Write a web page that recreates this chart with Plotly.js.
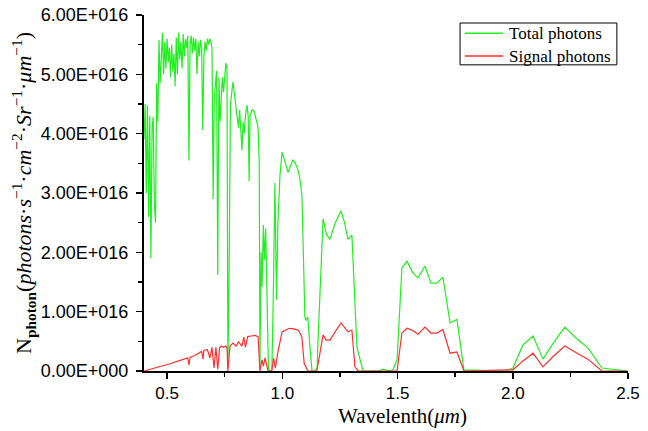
<!DOCTYPE html>
<html>
<head>
<meta charset="utf-8">
<script src="https://cdn.plot.ly/plotly-3.0.1.min.js"></script>
<style>html,body{margin:0;padding:0;background:#fff;}#chart{width:648px;height:431px;}</style>
</head>
<body>
<div id="chart"></div>
<script>
// Wavelength (um) and photon counts in units of 1e16
const totalWavelength = [0.400,0.405,0.410,0.415,0.420,0.425,0.430,0.435,0.440,0.445,0.450,0.455,0.460,0.465,0.470,0.475,0.480,0.485,0.490,0.495,0.500,0.505,0.510,0.515,0.520,0.525,0.530,0.535,0.540,0.545,0.550,0.555,0.560,0.565,0.570,0.575,0.580,0.585,0.590,0.595,0.600,0.605,0.610,0.615,0.620,0.625,0.630,0.635,0.640,0.645,0.650,0.655,0.660,0.665,0.670,0.675,0.680,0.685,0.690,0.695,0.700,0.705,0.710,0.715,0.720,0.725,0.730,0.735,0.740,0.745,0.750,0.755,0.760,0.764,0.770,0.775,0.786,0.795,0.805,0.810,0.815,0.820,0.825,0.830,0.835,0.840,0.847,0.852,0.856,0.860,0.869,0.878,0.887,0.895,0.900,0.903,0.908,0.912,0.918,0.922,0.928,0.935,0.940,0.950,0.955,0.962,0.968,0.975,0.981,0.990,0.999,1.010,1.025,1.035,1.046,1.057,1.068,1.077,1.085,1.090,1.098,1.104,1.111,1.120,1.129,1.140,1.151,1.155,1.166,1.177,1.192,1.207,1.229,1.255,1.270,1.285,1.302,1.324,1.350,1.420,1.437,1.452,1.467,1.480,1.498,1.519,1.541,1.567,1.589,1.619,1.645,1.671,1.697,1.728,1.758,1.788,1.966,2.001,2.044,2.088,2.131,2.174,2.226,2.279,2.326,2.387,2.435,2.496];
const totalPhotons = [3.9,4.5,3.0,4.48,2.6,4.3,1.9,4.1,4.28,2.8,2.5,4.85,4.2,5.58,4.85,5.3,5.7,5.0,5.55,5.1,5.6,5.2,5.45,4.95,5.5,5.05,5.35,4.8,5.62,5.0,5.7,5.25,5.55,5.1,5.68,5.3,5.6,5.45,5.65,3.55,5.5,5.65,5.35,5.62,5.4,5.6,5.0,5.55,5.3,5.58,5.45,4.06,5.3,5.55,5.4,5.6,5.5,5.6,5.55,5.45,2.9,4.6,4.9,5.06,1.62,4.95,4.2,4.6,4.95,4.7,5.05,5.19,5.1,0.05,2.0,4.5,4.87,4.6,4.3,4.1,4.4,3.9,3.72,4.2,4.0,4.3,4.48,4.3,3.2,4.3,4.4,4.38,4.25,4.1,3.5,0.1,2.0,1.42,2.46,1.87,2.4,0.8,0.02,0.0,0.05,1.5,3.17,1.2,2.5,3.3,3.69,3.55,3.35,3.45,3.56,3.5,3.39,3.22,2.97,2.2,0.91,0.85,0.91,0.4,0.0,0.0,0.05,0.52,1.6,2.56,2.3,2.22,2.49,2.7,2.5,2.22,2.29,0.4,0.0,0.0,0.03,0.02,0.0,0.02,0.19,1.74,1.85,1.65,1.57,1.77,1.48,1.48,1.58,0.81,0.87,0.02,0.0,0.05,0.44,0.59,0.2,0.46,0.74,0.54,0.39,0.05,0.03,0.0];

const signalWavelength = [0.400,0.410,0.430,0.450,0.480,0.500,0.520,0.550,0.580,0.590,0.595,0.600,0.620,0.640,0.650,0.656,0.660,0.675,0.686,0.695,0.704,0.712,0.720,0.728,0.735,0.745,0.755,0.760,0.764,0.773,0.786,0.800,0.810,0.825,0.833,0.840,0.850,0.865,0.882,0.895,0.903,0.912,0.918,0.925,0.938,0.955,0.962,0.970,0.980,0.999,1.015,1.030,1.050,1.068,1.077,1.085,1.095,1.111,1.150,1.164,1.177,1.190,1.207,1.229,1.255,1.285,1.302,1.315,1.330,1.498,1.519,1.541,1.567,1.589,1.619,1.645,1.671,1.697,1.728,1.758,1.788,2.001,2.044,2.088,2.131,2.174,2.226,2.279,2.326,2.387,2.500];
const signalPhotons = [0.0,0.01,0.04,0.06,0.09,0.11,0.13,0.17,0.2,0.22,0.1,0.23,0.26,0.3,0.33,0.2,0.35,0.36,0.22,0.4,0.05,0.4,0.03,0.39,0.42,0.4,0.42,0.4,0.0,0.42,0.47,0.42,0.49,0.42,0.57,0.4,0.58,0.59,0.6,0.58,0.0,0.19,0.08,0.22,0.0,0.0,0.22,0.05,0.3,0.66,0.69,0.72,0.71,0.69,0.64,0.57,0.13,0.0,0.0,0.3,0.61,0.52,0.52,0.66,0.81,0.66,0.69,0.07,0.0,0.0,0.64,0.72,0.68,0.62,0.74,0.64,0.64,0.70,0.30,0.32,0.0,0.02,0.17,0.30,0.07,0.24,0.42,0.30,0.20,0.0,0.0];

const seriesNames = ['Total photons','Signal photons'];
const seriesColors = ['#22ee22','#ff3030'];
const yTickVals = [0,1,2,3,4,5,6];
const yTickText = ['0.00E+000','1.00E+016','2.00E+016','3.00E+016','4.00E+016','5.00E+016','6.00E+016'];
const yMinorVals = [0.5,1.5,2.5,3.5,4.5,5.5];
const xTickVals = [0.5,1.0,1.5,2.0,2.5];
const xTickText = ['0.5','1.0','1.5','2.0','2.5'];
const xMinorVals = [0.75,1.25,1.75,2.25];

const traces = [
  {x: totalWavelength, y: totalPhotons, type:'scatter', mode:'lines', name:seriesNames[0],
   line:{color:seriesColors[0], width:1.2}},
  {x: signalWavelength, y: signalPhotons, type:'scatter', mode:'lines', name:seriesNames[1],
   line:{color:seriesColors[1], width:1.2}}
];

// Legend box drawn in paper coordinates (legend layout only)
const lgX0 = 0.653, lgX1 = 0.977, lgY0 = 0.860, lgY1 = 0.9775;
const lgLineX0 = 0.663, lgLineX1 = 0.742, lgTextX = 0.751;
const lgRowY = [0.9486, 0.8848];

const shapes = [
  {type:'rect', xref:'paper', yref:'paper', x0:lgX0, x1:lgX1, y0:lgY0, y1:lgY1,
   line:{color:'#000', width:1}, fillcolor:'#fff', layer:'above'}
];
const annotations = [];
seriesNames.forEach((nm, i) => {
  shapes.push({type:'line', xref:'paper', yref:'paper', x0:lgLineX0, x1:lgLineX1, y0:lgRowY[i], y1:lgRowY[i],
               line:{color:seriesColors[i], width:1.5}, layer:'above'});
  annotations.push({xref:'paper', yref:'paper', x:lgTextX, y:lgRowY[i], xanchor:'left', yanchor:'middle',
                    text:nm, showarrow:false, font:{family:'Liberation Serif', size:17, color:'#000'}});
});
annotations.push({xref:'paper', yref:'paper', x:0.535, y:-0.126, xanchor:'center', yanchor:'middle',
                  text:'Wavelenth(<i>μm</i>)', showarrow:false,
                  font:{family:'Liberation Serif', size:21, color:'#000'}});

const layout = {
  width:648, height:431,
  margin:{l:144, r:20, t:15, b:60},
  paper_bgcolor:'#fff', plot_bgcolor:'#fff',
  showlegend:false,
  shapes: shapes,
  annotations: annotations,
  xaxis:{range:[0.4,2.5], showgrid:false, zeroline:false, showline:true, linecolor:'#000', linewidth:2,
         ticks:'outside', ticklen:6, tickwidth:1.5, tickcolor:'#000',
         tickmode:'array', tickvals:xTickVals, ticktext:xTickText,
         minor:{tickmode:'array', tickvals:xMinorVals, ticks:'outside', ticklen:4, tickwidth:1.5, tickcolor:'#000'},
         tickfont:{family:'Liberation Sans', size:17, color:'#000'}},
  yaxis:{range:[0,6], showgrid:false, zeroline:false, showline:true, linecolor:'#000', linewidth:2,
         ticks:'outside', ticklen:6, tickwidth:1.5, tickcolor:'#000', ticklabelstandoff:4,
         tickmode:'array', tickvals:yTickVals, ticktext:yTickText,
         minor:{tickmode:'array', tickvals:yMinorVals, ticks:'outside', ticklen:4, tickwidth:1.5, tickcolor:'#000'},
         tickfont:{family:'Liberation Sans', size:18, color:'#000'},
         title:{text:'N<sub><b>photon</b></sub>(<i>photons</i>·<i>s</i><sup>−1</sup>·<i>cm</i><sup>−2</sup>·<i>Sr</i><sup>−1</sup>·<i>μm</i><sup>−1</sup>)',
                font:{family:'Liberation Serif', size:22, color:'#000'}, standoff:3}}
};

Plotly.newPlot('chart', traces, layout, {staticPlot:true, displayModeBar:false});
</script>
</body>
</html>
